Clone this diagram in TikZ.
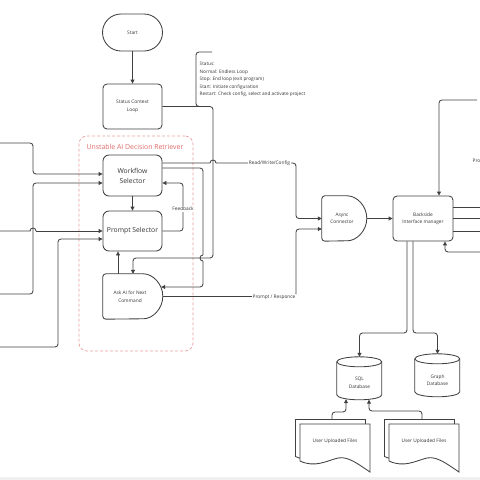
\documentclass[tikz,border=0pt]{standalone}
\usepackage{fontspec}
\setmainfont{Open Sans}
\usetikzlibrary{arrows.meta,calc}
\definecolor{lncol}{HTML}{404040}
\definecolor{txcol}{HTML}{333333}
\definecolor{rdcol}{HTML}{E06A6A}
\definecolor{rdlcol}{HTML}{EBA0A0}
\begin{document}
\begin{tikzpicture}[x=1pt,y=-1pt,
  ln/.style={draw=lncol, line width=0.85pt, rounded corners=3pt},
  hop/.style={draw=lncol, line width=0.85pt},
  arr/.style={ln, -{Triangle[length=4pt,width=4pt]}},
  shp/.style={draw=lncol, line width=0.85pt},
  sm/.style={font=\fontsize{4.8}{7.5}\selectfont, text=txcol, align=center},
  md/.style={font=\fontsize{6.8}{10}\selectfont, text=txcol, align=center},
  box/.style={draw=lncol, line width=0.85pt, fill=white, rounded corners=4pt},
  lbl/.style={sm, fill=white, inner sep=0.8pt},
  docsheet/.pic={\draw[shp, fill=white] (0,0) -- (70,0) -- (70,48) .. controls (58,40) and (48,32) .. (38,34) .. controls (26,37) and (15,44) .. (0,37) -- cycle;}
]
\useasboundingbox (0,0) rectangle (480,480);
\clip (0,0) rectangle (480,480);
\fill[gray!12] (0,476.5) rectangle (480,480);

% container
\node[draw=rdlcol, dash pattern=on 3pt off 2pt, line width=0.7pt, rounded corners=8pt, minimum width=114pt, minimum height=215pt] (cont) at (136,243.5) {};
\node[font=\fontsize{6.9}{8}\selectfont, text=rdcol] (title) at (135,147) {Unstable AI Decision Retriever};

% nodes
\node[box, sm, minimum width=60pt, minimum height=37pt, rounded corners=18.5pt] (start) at (132.5,32.5) {Start};
\node[box, sm, minimum width=59pt, minimum height=45pt] (scl) at (132.5,106.5) {Status Context\\Loop};
\node[box, md, minimum width=59pt, minimum height=41pt, rounded corners=6pt] (wf) at (132.5,175.5) {Workflow\\Selector};
\node[box, md, minimum width=59pt, minimum height=40pt, rounded corners=6pt] (ps) at (132.5,231) {Prompt Selector};
\node[minimum width=60pt, minimum height=45pt, inner sep=0, label={[sm, xshift=-3pt]center:Ask AI for Next\\Command}] (ask) at (133,296.5) {};
\draw[shp, rounded corners=3pt] (ask.north west) -- ++(37.5,0) arc[start angle=-90, end angle=90, x radius=22.5, y radius=22.5] -- (ask.south west) -- cycle;

\node[minimum width=45pt, minimum height=45pt, inner sep=0, label={[sm, xshift=-2.5pt]center:Async\\Connector}] (async) at (344.5,218.5) {};
\draw[shp, rounded corners=3pt] (async.north west) -- ++(22.5,0) arc[start angle=-90, end angle=90, x radius=22.5, y radius=22.5] -- (async.south west) -- cycle;

\node[box, sm, minimum width=60pt, minimum height=45pt] (bim) at (423,218.5) {Backside\\Interface manager};

\node[minimum width=45pt, minimum height=43pt, inner sep=0, label={[sm, yshift=-4.5pt]center:SQL\\Database}] (sql) at (359.5,378.5) {};
\draw[shp] (sql.north west) ++(0,5) arc[start angle=180, end angle=360, x radius=22.5, y radius=5] -- ++(0,33) arc[start angle=0, end angle=180, x radius=22.5, y radius=5] -- cycle;
\draw[shp] (sql.north west) ++(0,5) arc[start angle=180, end angle=0, x radius=22.5, y radius=5];

\node[minimum width=45pt, minimum height=43pt, inner sep=0, label={[sm, yshift=-4.5pt]center:Graph\\Database}] (graph) at (437.5,375.5) {};
\draw[shp] (graph.north west) ++(0,5) arc[start angle=180, end angle=360, x radius=22.5, y radius=5] -- ++(0,33) arc[start angle=0, end angle=180, x radius=22.5, y radius=5] -- cycle;
\draw[shp] (graph.north west) ++(0,5) arc[start angle=180, end angle=0, x radius=22.5, y radius=5];

% documents
\pic at (295.5,419.5) {docsheet};
\pic at (300,424) {docsheet};
\pic at (384.5,419.5) {docsheet};
\pic at (389,424) {docsheet};
\node[sm] (uf1) at (335,441) {User Uploaded Files};
\node[sm] (uf2) at (424,441) {User Uploaded Files};
\coordinate (uf1top) at (332,419.5);
\coordinate (uf2top) at (422,419.5);

% status annotation
\node[anchor=north west, inner sep=0, align=left, font=\fontsize{4.7}{7.6}\selectfont, text=txcol] (stat) at (199.5,61.8) {Status:\\Normal: Endless Loop\\Stop: End loop (exit program)\\Start: Initiate configuration\\Restart: Check config, select and activate project};
\draw[ln] (212,52) -| (196,106.5) -- (204,106.5);

% connectors
\draw[arr] (start.south) -- (scl.north);
\draw[arr] (scl.east) -- (213,106.5) -- (213,258) -- (133,258) -- (ask.north);
\draw[arr] (wf.south) -- (ps.north);
\draw[arr] (ask.north -| 118,0) -- (ps.south -| 118,0);
\draw[arr] (ps.east) -- (183,231) -- (183,183) -- (wf.east |- 0,183);
\node[lbl] (fb) at (183,209) {Feedback};

\draw[hop] (wf.east |- 0,163) -- (210,163) arc[start angle=180, end angle=360, radius=3];
\draw[arr] (216,163) -- (296,163) -- (296,218.5) -- (async.west);
\node[lbl] (rwc) at (269.5,163.3) {Read/Write/Config};

\draw[ln] (wf.east |- 0,168) -- (203,168) -- (203,255);
\draw[hop] (203,255) arc[start angle=270, end angle=90, radius=3];
\coordinate (askin) at ($(ask.east)+(-2,-9.5)$);
\draw[arr] (203,261) -- (203,287) -- (askin);

\draw[arr] (ask.east) -- (296,296.5) -- (296,229) -- (async.west |- 0,229);
\node[lbl] (pr) at (274,297) {Prompt / Responce};

\draw[arr] (async.east) -- (bim.west);
\coordinate (tin) at (477,100);
\draw[arr] (tin) -- (439,100) -- (bim.north -| 439,0);
\coordinate (r1) at (480,207);
\coordinate (r2) at (480,218.5);
\coordinate (r3) at (480,231);
\draw[ln] (bim.east |- 0,207) -- (r1);
\draw[ln] (bim.east) -- (r2);
\draw[ln] (bim.east |- 0,231) -- (r3);
\coordinate (rin) at (480,252);
\draw[arr] (rin) -- (445,252) -- (bim.south -| 445,0);
\node[sm, anchor=west, inner sep=0] (pro) at (472.5,161) {Pro};

\draw[arr] (bim.south -| 407,0) -- (407,333) -- (sql.north |- 0,333) -- (sql.north);
\draw[arr] (bim.south -| 413,0) -- (413,333) -- (graph.north |- 0,333) -- (graph.north);
\draw[arr] (uf1top) -- (332,412) -- (346,412) -- ($(sql.south)+(-13.5,-1)$);
\draw[arr] (uf2top) -- (422,411) -- (369,411) -- ($(sql.south)+(9.5,-0.5)$);

% left inputs
\coordinate (in1) at (0,143);
\coordinate (in2) at (0,294);
\coordinate (in3) at (0,231);
\coordinate (in4) at (0,347);
\draw[arr] (in1) -- (33,143) -- (33,174) -- (wf.west |- 0,174);
\draw[arr] (in2) -- (33,294) -- (33,183) -- (wf.west |- 0,183);
\draw[hop] (in3) -- (30,231) arc[start angle=180, end angle=360, radius=3];
\draw[arr] (36,231) -- (ps.west);
\draw[arr] (in4) -- (58,347) -- (58,239) -- (ps.west |- 0,239);
\end{tikzpicture}
\end{document}
